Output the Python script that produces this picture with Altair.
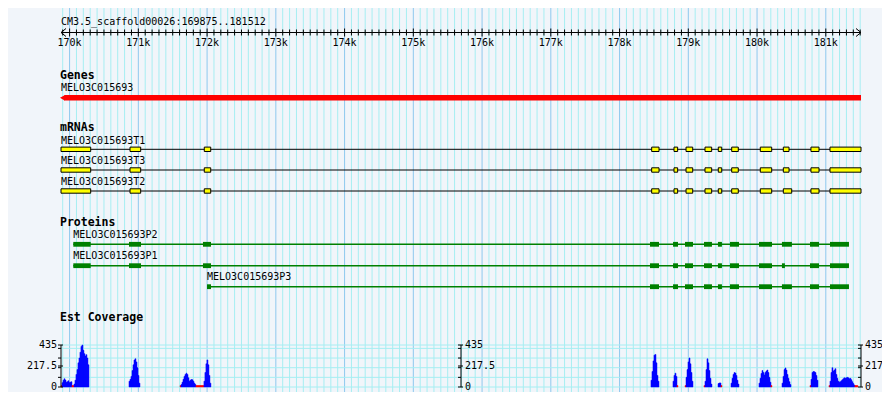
import altair as alt
import pandas as pd

# ---------------- data ----------------
SEQ_ID = "CM3.5_scaffold00026"
START, END = 169875, 181512

GENE_NAME = "MELO3C015693"
GENE_START, GENE_END = 169875, 181512

TRANSCRIPTS = ["MELO3C015693T1", "MELO3C015693T3", "MELO3C015693T2"]
EXON_STARTS = [169875, 170879, 171959, 178467, 178792, 178967, 179243, 179436, 179631, 180047, 180382, 180784, 181061]
EXON_ENDS_T1 = [170307, 171034, 172053, 178574, 178845, 179064, 179340, 179486, 179727, 180213, 180465, 180901, 181512]
EXON_ENDS_T3 = [170307, 171034, 172053, 178574, 178845, 179064, 179340, 179486, 179727, 180213, 180465, 180901, 181512]
EXON_ENDS_T2 = [170307, 171034, 172053, 178574, 178845, 179064, 179340, 179486, 179727, 180213, 180504, 180901, 181512]

PROTEINS = ["MELO3C015693P2", "MELO3C015693P1", "MELO3C015693P3"]
CDS_STARTS_P2 = [170054, 170864, 171940, 178443, 178778, 178952, 179228, 179431, 179606, 180028, 180362, 180770, 181061]
CDS_ENDS_P2 = [170307, 171039, 172057, 178574, 178850, 179068, 179344, 179489, 179737, 180217, 180507, 180901, 181337]
CDS_STARTS_P1 = [170054, 170864, 171940, 178443, 178778, 178952, 179228, 179431, 179606, 180028, 180362, 180770, 181061]
CDS_ENDS_P1 = [170307, 171039, 172057, 178574, 178850, 179068, 179344, 179489, 179737, 180217, 180405, 180901, 181337]
CDS_STARTS_P3 = [171999, 178443, 178778, 178952, 179228, 179431, 179606, 180028, 180362, 180770, 181061]
CDS_ENDS_P3 = [172057, 178574, 178850, 179068, 179344, 179489, 179737, 180217, 180507, 180901, 181337]

COV_MAX = 435
COV_LABELS = [435, 217.5, 0]
COV_MINOR = [100, 200, 300, 400]
COV_BIN = 14.5
COV_PEAK_STARTS = [169875, 170864, 171606, 178457, 178777, 178952, 179228, 179432, 179621, 180028, 180363, 180770, 181046]
COV_PEAK_VALUES = [
    [15, 45, 70, 85, 72, 50, 55, 65, 45, 50, 55, 15, 15, 30, 70, 130, 180, 250, 300, 360, 420, 435, 380, 345, 320, 335, 300, 230],
    [60, 80, 110, 170, 230, 280, 292, 260, 200, 120, 40],
    [15, 25, 50, 80, 110, 130, 143, 130, 95, 60, 70, 78, 75, 60, 40, 25, 15, 15, 15, 15, 15, 15, 15, 15, 60, 150, 240, 280, 230, 120, 40],
    [70, 160, 270, 330, 337, 250, 120, 60],
    [60, 120, 143, 110, 15],
    [15, 100, 180, 260, 301, 240, 150, 60],
    [15, 60, 180, 292, 250, 170, 90, 30],
    [35, 42, 42, 15],
    [40, 90, 130, 149, 145, 120, 70, 30],
    [40, 90, 140, 170, 150, 125, 150, 165, 176, 150, 100, 50, 15],
    [40, 110, 180, 197, 175, 130, 90, 55, 25],
    [15, 80, 150, 161, 158, 150, 120, 70],
    [15, 60, 150, 200, 165, 175, 190, 130, 90, 60, 50, 55, 65, 75, 85, 95, 90, 95, 100, 95, 85, 90, 75, 55, 35, 20, 15, 15, 15],
]
LOW_CUTOFF = 15

# ---------------- layout / style ----------------
FONT = "DejaVu Sans Mono"
BG = "#f1f5fa"
GRID_MINOR = "#a6eef2"
GRID_MAJOR = "#8ec8ee"
W, H = 874, 384
OFF_X, OFF_Y = 8, 8
X_LO, X_HI = 61 - OFF_X, 861 - OFF_X
BP_PX = (END - START) / (X_HI - X_LO)


def r(y):
    return y - OFF_Y


TITLE_Y = r(21.5)
RULER_Y = r(32.5)
RULER_LABEL_Y = r(42.5)
TRACK_TITLES = ["Genes", "mRNAs", "Proteins", "Est Coverage"]
TRACK_TITLE_Y = [r(76), r(128), r(223.3), r(318.3)]
GENE_LABEL_Y = r(88)
GENE_BAR_Y = r(97.8)
T_LABEL_Y = [r(140.7), r(161), r(181.7)]
T_LINE_Y = [r(149.3), r(170), r(191)]
P_LABEL_Y = [r(235), r(256), r(276.7)]
P_LINE_Y = [r(244.3), r(265.7), r(286.7)]
COV_BASE, COV_TOP = r(387), r(345)

xs = alt.Scale(domain=[START, END], range=[X_LO, X_HI], nice=False, zero=False)
ys = alt.Scale(domain=[0, H], range=[0, H], nice=False, zero=False)
cs = alt.Scale(domain=[0, COV_MAX], range=[COV_BASE, COV_TOP], nice=False, zero=False)


def X(f):
    return alt.X(f, type="quantitative", scale=xs, axis=None)


def Y(f, s=ys):
    return alt.Y(f, type="quantitative", scale=s, axis=None)


layers = []

# vertical grid
grid_pos = list(range(169900, END + 1, 100))
grid_df = pd.DataFrame({"pos": grid_pos, "major": [p % 1000 == 0 for p in grid_pos]})
layers.append(alt.Chart(grid_df[~grid_df.major]).mark_rule(color=GRID_MINOR, strokeWidth=1).encode(
    x=X("pos"), y=alt.value(0), y2=alt.value(H)))
layers.append(alt.Chart(grid_df[grid_df.major]).mark_rule(color=GRID_MAJOR, strokeWidth=1).encode(
    x=X("pos"), y=alt.value(0), y2=alt.value(H)))

# horizontal grid in coverage panel
hgrid = pd.DataFrame({"v": [0] + COV_MINOR + [COV_MAX], "a": START, "b": END})
layers.append(alt.Chart(hgrid).mark_rule(color=GRID_MINOR, strokeWidth=1).encode(
    x=X("a"), x2="b", y=Y("v", cs)))

# title
layers.append(alt.Chart(pd.DataFrame({"t": [f"{SEQ_ID}:{START}..{END}"], "x": [START], "y": [TITLE_Y]}))
              .mark_text(font=FONT, fontSize=10, align="left", baseline="middle", color="black")
              .encode(x=X("x"), y=Y("y"), text="t:N"))

# ruler
layers.append(alt.Chart(pd.DataFrame({"a": [START], "b": [END], "y": [RULER_Y]})).mark_rule(color="black").encode(
    x=X("a"), x2="b", y=Y("y")))
tick_df = pd.DataFrame({
    "pos": grid_pos,
    "y0": [RULER_Y - (4 if p % 1000 == 0 else 3) for p in grid_pos],
    "y1": [RULER_Y + (4 if p % 1000 == 0 else 3) for p in grid_pos],
})
layers.append(alt.Chart(tick_df).mark_rule(color="black").encode(x=X("pos"), y=Y("y0"), y2="y1"))
chev = pd.DataFrame({
    "a": [START, START, END, END],
    "b": [START + 5 * BP_PX, START + 5 * BP_PX, END - 5 * BP_PX, END - 5 * BP_PX],
    "ya": [RULER_Y] * 4,
    "yb": [RULER_Y - 4, RULER_Y + 4, RULER_Y - 4, RULER_Y + 4],
})
layers.append(alt.Chart(chev).mark_rule(color="black").encode(x=X("a"), x2="b", y=Y("ya"), y2="yb"))
major = [p for p in grid_pos if p % 1000 == 0]
layers.append(alt.Chart(pd.DataFrame({"pos": major, "t": [f"{p // 1000}k" for p in major], "y": RULER_LABEL_Y}))
              .mark_text(font=FONT, fontSize=10, align="center", baseline="middle", color="black")
              .encode(x=X("pos"), y=Y("y"), text="t:N"))

# track titles
layers.append(alt.Chart(pd.DataFrame({"t": TRACK_TITLES, "y": TRACK_TITLE_Y}))
              .mark_text(font=FONT, fontSize=11.5, fontWeight="bold", align="left", baseline="middle", color="black")
              .encode(x=alt.value(X_LO - 1), y=Y("y"), text="t:N"))

# gene
gene_df = pd.DataFrame({"a": [GENE_START], "b": [GENE_END], "y0": [GENE_BAR_Y - 2.8], "y1": [GENE_BAR_Y + 2.8],
                        "y": [GENE_BAR_Y], "ly": [GENE_LABEL_Y], "name": [GENE_NAME]})
layers.append(alt.Chart(gene_df).mark_rect(color="#ff0000", xOffset=3.5).encode(x=X("a"), x2="b", y=Y("y0"), y2="y1"))
layers.append(alt.Chart(gene_df).mark_point(shape="M -1 0 L 1 -1.15 L 1 1.15 Z", filled=True, size=25, opacity=1,
                                            color="#ff0000", xOffset=1.5).encode(x=X("a"), y=Y("y")))
layers.append(alt.Chart(gene_df).mark_text(font=FONT, fontSize=10, align="left", baseline="middle", color="black")
              .encode(x=X("a"), y=Y("ly"), text="name:N"))

# transcripts
t_ends = [EXON_ENDS_T1, EXON_ENDS_T3, EXON_ENDS_T2]
ex_rows, tr_rows = [], []
for i, name in enumerate(TRANSCRIPTS):
    for s, e in zip(EXON_STARTS, t_ends[i]):
        ex_rows.append({"a": s, "b": e, "y0": T_LINE_Y[i] - 2.2, "y1": T_LINE_Y[i] + 2.2})
    tr_rows.append({"name": name, "a": EXON_STARTS[0], "b": t_ends[i][-1], "y": T_LINE_Y[i], "ly": T_LABEL_Y[i]})
ex_df, tr_df = pd.DataFrame(ex_rows), pd.DataFrame(tr_rows)
layers.append(alt.Chart(tr_df).mark_rule(color="black", strokeWidth=1).encode(x=X("a"), x2="b", y=Y("y")))
layers.append(alt.Chart(ex_df).mark_rect(fill="#ffff00", stroke="black", strokeWidth=1).encode(
    x=X("a"), x2="b", y=Y("y0"), y2="y1"))
layers.append(alt.Chart(tr_df).mark_text(font=FONT, fontSize=10, align="left", baseline="middle", color="black")
              .encode(x=X("a"), y=Y("ly"), text="name:N"))

# proteins
p_starts = [CDS_STARTS_P2, CDS_STARTS_P1, CDS_STARTS_P3]
p_ends = [CDS_ENDS_P2, CDS_ENDS_P1, CDS_ENDS_P3]
cds_rows, pr_rows = [], []
for i, name in enumerate(PROTEINS):
    for s, e in zip(p_starts[i], p_ends[i]):
        cds_rows.append({"a": s, "b": e, "y0": P_LINE_Y[i] - 2.4, "y1": P_LINE_Y[i] + 2.4})
    pr_rows.append({"name": name, "a": p_starts[i][0], "b": p_ends[i][-1], "y": P_LINE_Y[i], "ly": P_LABEL_Y[i]})
cds_df, pr_df = pd.DataFrame(cds_rows), pd.DataFrame(pr_rows)
layers.append(alt.Chart(pr_df).mark_rule(color="#008000", strokeWidth=1.4).encode(x=X("a"), x2="b", y=Y("y")))
layers.append(alt.Chart(cds_df).mark_rect(color="#008000").encode(x=X("a"), x2="b", y=Y("y0"), y2="y1"))
layers.append(alt.Chart(pr_df).mark_text(font=FONT, fontSize=10, align="left", baseline="middle", color="black")
              .encode(x=X("a"), y=Y("ly"), text="name:N"))

# coverage bars
cov_rows = []
for s, vals in zip(COV_PEAK_STARTS, COV_PEAK_VALUES):
    for k, v in enumerate(vals):
        cov_rows.append({"a": s + k * COV_BIN, "b": s + (k + 1) * COV_BIN, "v": v,
                         "kind": "low" if v <= LOW_CUTOFF else "high"})
cov_df = pd.DataFrame(cov_rows)
cscale = alt.Scale(domain=["high", "low"], range=["#0000ff", "#ff0000"])
layers.append(alt.Chart(cov_df).mark_rect(strokeWidth=0.5).encode(
    x=X("a"), x2="b", y=Y("v", cs), y2=alt.datum(0),
    fill=alt.Fill("kind:N", scale=cscale, legend=None),
    stroke=alt.Stroke("kind:N", scale=cscale, legend=None)))

# coverage axes
axis_pos = [START, (START + END) / 2, END]
ax_df = pd.DataFrame({"pos": axis_pos, "lo": 0, "hi": COV_MAX})
layers.append(alt.Chart(ax_df).mark_rule(color="black").encode(x=X("pos"), y=Y("lo", cs), y2="hi"))
minor_df = pd.DataFrame([{"pos": p, "v": v} for p in axis_pos for v in COV_MINOR])
layers.append(alt.Chart(minor_df).mark_rule(color="black", xOffset=-3).encode(x=X("pos"), x2="pos", y=Y("v", cs)))
major_df = pd.DataFrame([{"pos": p, "v": v} for p in axis_pos for v in COV_LABELS])
layers.append(alt.Chart(major_df).mark_rule(color="black", xOffset=-3, x2Offset=2).encode(
    x=X("pos"), x2="pos", y=Y("v", cs)))
lab_left = pd.DataFrame({"pos": START, "v": COV_LABELS, "t": [f"{v:g}" for v in COV_LABELS]})
lab_right = pd.DataFrame([{"pos": p, "v": v, "t": f"{v:g}"} for p in axis_pos[1:] for v in COV_LABELS])
layers.append(alt.Chart(lab_left).mark_text(font=FONT, fontSize=10, align="right", baseline="middle", dx=-4,
                                            color="black").encode(x=X("pos"), y=Y("v", cs), text="t:N"))
layers.append(alt.Chart(lab_right).mark_text(font=FONT, fontSize=10, align="left", baseline="middle", dx=4,
                                             color="black").encode(x=X("pos"), y=Y("v", cs), text="t:N"))

chart = (
    alt.layer(*layers)
    .resolve_scale(y="independent")
    .properties(width=W, height=H, padding=0, autosize=alt.AutoSizeParams(type="none"), background=BG)
    .configure_view(stroke=None, fill=BG)
)

chart.save("out.html", embed_options={"renderer": "svg", "actions": False})
